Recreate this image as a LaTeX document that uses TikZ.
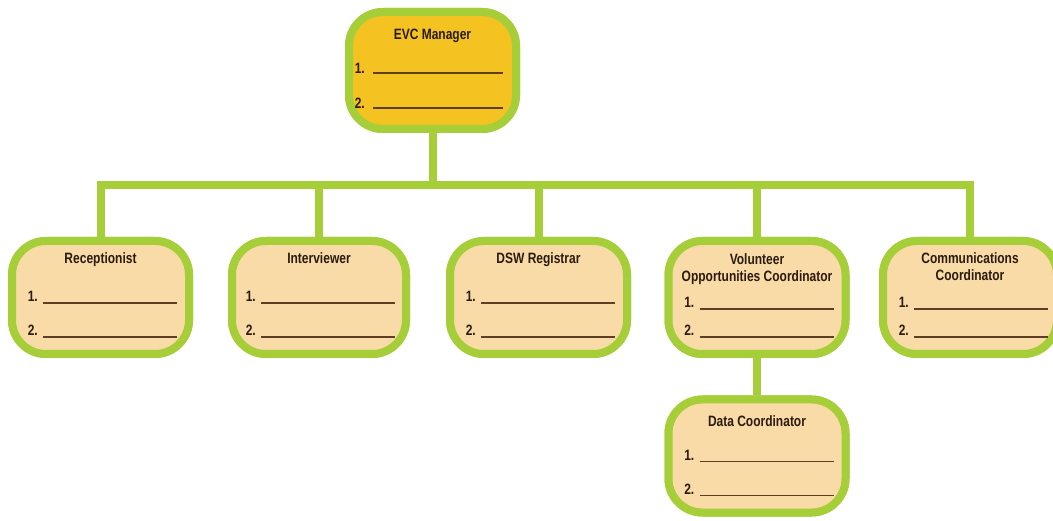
\documentclass[tikz,border=0pt]{standalone}
\usepackage{fontspec}
\setmainfont{Liberation Sans}[FakeStretch=0.8]
\usetikzlibrary{calc}
\definecolor{leaf}{HTML}{A6CE39}
\definecolor{gold}{HTML}{F4C321}
\definecolor{peach}{HTML}{F8DBA6}
\definecolor{ink}{HTML}{2B1B10}
\definecolor{rulebrown}{HTML}{5E3F25}
\tikzset{
  rolebox/.style={draw=leaf, line width=8pt, fill=peach, rounded corners=34pt,
    minimum width=177pt, minimum height=113pt, inner sep=0pt},
  headbox/.style={rolebox, fill=gold, minimum width=167pt, minimum height=117pt},
  link/.style={draw=leaf, line width=8pt, line join=miter},
  title/.style={font=\fontsize{15}{17}\selectfont\bfseries, text=ink, align=center, inner sep=0pt},
  num/.style={font=\fontsize{15}{17}\selectfont\bfseries, text=ink, inner sep=0pt, anchor=base east},
  blank/.style={draw=rulebrown, line width=1.1pt}
}
\newcommand{\twolines}[4]{% box, number x-offset, y1, y2
  \node[num] at ($(#1.north west)+(#2+8,#3)$) {1.};
  \draw[blank] ($(#1.north west)+(#2+13,#3+1)$) -- ($(#1.north west)+(#2+147,#3+1)$);
  \node[num] at ($(#1.north west)+(#2+8,#4)$) {2.};
  \draw[blank] ($(#1.north west)+(#2+13,#4+1)$) -- ($(#1.north west)+(#2+147,#4+1)$);
}
\begin{document}
\begin{tikzpicture}[x=1pt,y=-1pt]
\useasboundingbox (0,0) rectangle (1053,521);
\fill[white] (0,0) rectangle (1053,521);
\coordinate (bus) at (0,185);
\node[headbox] (top) at (432.5,70.5) {};
\node[rolebox] (r1) at (100.5,297.5) {};
\node[rolebox, minimum width=174pt] (r2) at (319,297.5) {};
\node[rolebox] (r3) at (538.5,297.5) {};
\node[rolebox] (r4) at (757,297.5) {};
\node[rolebox, minimum width=174pt] (r5) at (970,297.5) {};
\node[rolebox] (r6) at (757,456) {};
\draw[link] (top.south) -- (top.south |- bus);
\draw[link] (r1.north) -- (r1.north |- bus) -- (r5.north |- bus) -- (r5.north);
\draw[link] (r2.north) -- (r2.north |- bus);
\draw[link] (r3.north) -- (r3.north |- bus);
\draw[link] (r4.north) -- (r4.north |- bus);
\draw[link] (r4.south) -- (r6.north);
% boxes again, over the connector ends
\node[headbox] at (top) {};
\node[rolebox] at (r1) {};
\node[rolebox, minimum width=174pt] at (r2) {};
\node[rolebox] at (r3) {};
\node[rolebox] at (r4) {};
\node[rolebox, minimum width=174pt] at (r5) {};
\node[rolebox] at (r6) {};
% texts
\node[title, anchor=base] (t0) at ($(top.north)+(0,32)$) {EVC Manager};
\node[num] at ($(top.north west)+(20,66)$) {1.};
\draw[blank] ($(top.north west)+(28,65)$) -- ($(top.north west)+(158,65)$);
\node[num] at ($(top.north west)+(20,101)$) {2.};
\draw[blank] ($(top.north west)+(28,100)$) -- ($(top.north west)+(158,100)$);

\node[title, anchor=base] (t1) at ($(r1.north)+(0,27)$) {Receptionist};
\twolines{r1}{22}{65}{99}
\node[title, anchor=base] (t2) at ($(r2.north)+(0,27)$) {Interviewer};
\twolines{r2}{20}{65}{99}
\node[title, anchor=base] (t3) at ($(r3.north)+(0,27)$) {DSW Registrar};
\twolines{r3}{22}{65}{99}
\node[title] (t4) at ($(r4.north)+(0,32)$) {Volunteer\\Opportunities Coordinator};
\twolines{r4}{22}{71}{99}
\node[title] (t5) at ($(r5.north)+(0,30)$) {Communications\\Coordinator};
\twolines{r5}{22}{71}{99}
\node[title, anchor=base] (t6) at ($(r6.north)+(0,31)$) {Data Coordinator};
\twolines{r6}{22}{65}{99}
\end{tikzpicture}
\end{document}
